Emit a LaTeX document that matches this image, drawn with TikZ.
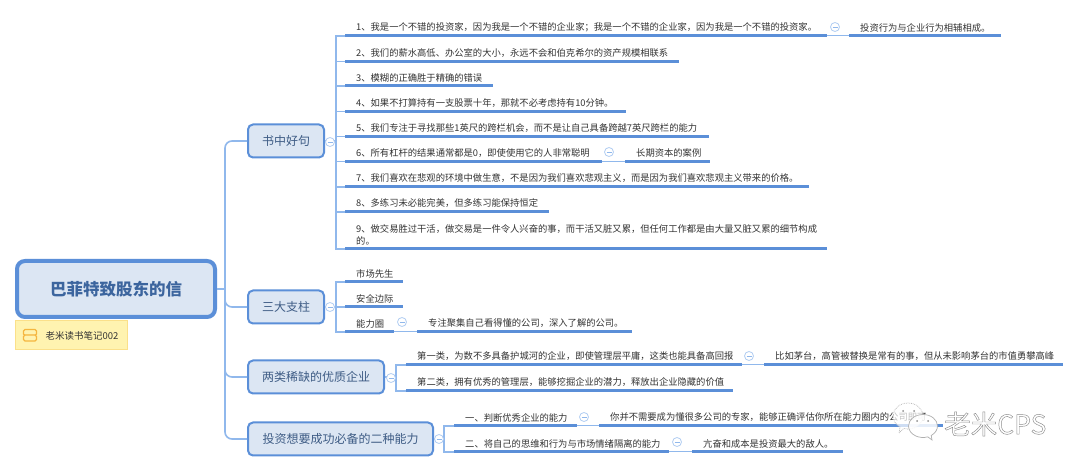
\documentclass[tikz,border=0pt]{standalone}
\usepackage{fontspec}
\usetikzlibrary{shapes.geometric,shapes.callouts}
\setmainfont{Noto Sans CJK SC}
\definecolor{barc}{HTML}{5B8FD8}
\definecolor{connc}{HTML}{90B8EC}
\definecolor{fillc}{HTML}{DCE6F3}
\definecolor{textc}{HTML}{333333}
\definecolor{branchtext}{HTML}{3E5C85}
\definecolor{roottext}{HTML}{3C659E}
\definecolor{notefill}{HTML}{FFF3B0}
\definecolor{noteedge}{HTML}{FBE08A}
\definecolor{noteicon}{HTML}{F5B63F}
\definecolor{wm}{HTML}{8C8C8C}
\tikzset{
  x=1pt,y=-1pt,
  conn/.style={draw=connc,line width=1.5pt},
  thinconn/.style={draw=connc,line width=1pt},
  trunkline/.style={draw=connc,line width=1.6pt,rounded corners=7pt},
  bar/.style={draw=barc,line width=3pt},
  leaf/.style={anchor=south west,inner xsep=11pt,inner ysep=3.9pt,align=left,text=textc,
    font=\fontsize{9.3}{12}\selectfont},
  branch/.style={draw=barc,fill=fillc,line width=2pt,rounded corners=5pt,text=branchtext,
    font=\fontsize{12}{14}\selectfont,inner sep=0pt,minimum height=33pt},
  rootnode/.style={draw=barc,fill=fillc,line width=4pt,rounded corners=8pt,text=roottext,
    font=\fontsize{16.5}{19}\selectfont\bfseries,inner sep=0pt,minimum width=198pt,minimum height=56pt},
  toggle/.style={circle,draw=connc!70,fill=white,line width=0.8pt,minimum size=9pt,inner sep=0pt,
    path picture={\draw[connc,line width=0.8pt] ([xshift=-2.5pt]path picture bounding box.center) -- ([xshift=2.5pt]path picture bounding box.center);}},
  notebox/.style={draw=noteedge,fill=notefill,line width=0.7pt,minimum width=112pt,minimum height=29pt,inner sep=0pt},
  iconrow/.style={draw=noteicon,line width=1.1pt,fill=notefill,rounded corners=1.5pt,minimum width=13pt,minimum height=6pt,inner sep=0pt},
  bubble/.style={draw=wm!70,fill=white,line width=0.7pt,inner sep=0pt},
}
\newcommand{\leafn}[5]{%
  \pgfmathsetmacro{\lw}{#3-#2-22}%
  \node[leaf,text width=\lw pt] (#1) at (#2,#4) {#5};
  \draw[bar] (#1.south west) -- (#1.south east);
}
\begin{document}
\begin{tikzpicture}
\useasboundingbox (0,0) rectangle (1080,470);
\fill[white] (0,0) rectangle (1080,470);

% root and branches
\node[rootnode] (root) at (116,289) {巴菲特致股东的信};
\node[notebox] (note) at (71,334.5) {};
\node[anchor=west,text=textc,font=\fontsize{9.5}{11}\selectfont,inner sep=0pt] (notetext) at (45.5,336) {老米读书笔记002};
\node[iconrow] (iconup) at (30,332.5) {};
\node[iconrow] (icondown) at (30,338) {};

\node[branch,minimum width=76pt] (b1) at (286,141) {书中好句};
\node[branch,minimum width=76pt] (b2) at (286,307) {三大支柱};
\node[branch,minimum width=136pt] (b3) at (316,377) {两类稀缺的优质企业};
\node[branch,minimum width=185pt] (b4) at (340.5,439) {投资想要成功必备的二种能力};

\coordinate (trunk) at (225,289);
\draw[conn] (root.east) -- (trunk);
\foreach \b in {b1,b2,b3,b4} \draw[trunkline] (trunk) |- (\b.west);

% junctions
\coordinate (j1) at (336,141);
\coordinate (j2) at (336,307);
\coordinate (j3) at (396,377);
\coordinate (j4) at (444,439);

% leaves of branch 1
\leafn{a1}{345}{827}{36}{1、我是一个不错的投资家，因为我是一个不错的企业家；我是一个不错的企业家，因为我是一个不错的投资家。}
\leafn{a1x}{849}{1001}{36}{投资行为与企业行为相辅相成。}
\leafn{a2}{345}{679}{61.5}{2、我们的薪水高低、办公室的大小，永远不会和伯克希尔的资产规模相联系}
\leafn{a3}{345}{493}{86}{3、模糊的正确胜于精确的错误}
\leafn{a4}{345}{626}{111.5}{4、如果不打算持有一支股票十年，那就不必考虑持有10分钟。}
\leafn{a5}{345}{709}{136.5}{5、我们专注于寻找那些1英尺的跨栏机会，而不是让自己具备跨越7英尺跨栏的能力}
\leafn{a6}{345}{602}{161.5}{6、所有杠杆的结果通常都是0，即使使用它的人非常聪明}
\leafn{a6x}{625}{710}{161.5}{长期资本的案例}
\leafn{a7}{345}{809}{187}{7、我们喜欢在悲观的环境中做生意，不是因为我们喜欢悲观主义，而是因为我们喜欢悲观主义带来的价格。}
\leafn{a8}{345}{549}{212}{8、多练习未必能完美，但多练习能保持恒定}
\leafn{a9}{345}{827}{249}{9、做交易胜过干活，做交易是一件令人兴奋的事，而干活又脏又累，但任何工作都是由大量又脏又累的细节构成\\的。}

% leaves of branch 2
\leafn{c1}{345}{403}{282}{市场先生}
\leafn{c2}{345}{403}{307}{安全边际}
\leafn{c3}{345}{394}{332}{能力圈}
\leafn{c3x}{417}{632}{332}{专注聚集自己看得懂的公司，深入了解的公司。}

% leaves of branch 3
\leafn{d1}{406}{742}{365}{第一类，为数不多具备护城河的企业，即使管理层平庸，这类也能具备高回报}
\leafn{d1x}{764}{1063}{365}{比如茅台，高管被替换是常有的事，但从未影响茅台的市值勇攀高峰}
\leafn{d2}{406}{733}{391}{第二类，拥有优秀的管理层，能够挖掘企业的潜力，释放出企业隐藏的价值}

% leaves of branch 4
\leafn{e1}{454}{577}{426}{一、判断优秀企业的能力}
\leafn{e1x}{599}{943}{426}{你并不需要成为懂很多公司的专家，能够正确评估你所在能力圈内的公司即可}
\leafn{e2}{454}{669}{452}{二、将自己的思维和行为与市场情绪隔离的能力}
\leafn{e2x}{692}{843}{452}{亢奋和成本是投资最大的敌人。}

\draw[conn] (b1.east) -- (j1);
\draw[conn] (b2.east) -- (j2);
\draw[conn] (b3.east) -- (j3);
\draw[conn] (b4.east) -- (j4);
\foreach \n in {a1,a2,a3,a4,a5,a6,a7,a8,a9} \draw[conn] (j1) |- (\n.south west);
\foreach \n in {c1,c2,c3} \draw[conn] (j2) |- (\n.south west);
\foreach \n in {d1,d2} \draw[conn] (j3) |- (\n.south west);
\foreach \n in {e1,e2} \draw[conn] (j4) |- (\n.south west);
\draw[thinconn] (a1.south east) -- (a1x.south west);
\draw[thinconn] (a6.south east) -- (a6x.south west);
\draw[thinconn] (c3.south east) -- (c3x.south west);
\draw[thinconn] (d1.south east) -- (d1x.south west);
\draw[thinconn] (e1.south east) -- (e1x.south west);
\draw[thinconn] (e2.south east) -- (e2x.south west);

% collapse toggles
\node[toggle] (t1) at (330,142) {};
\node[toggle] (t2) at (330,307) {};
\node[toggle] (t3) at (391,378) {};
\node[toggle] (t4) at (439,439) {};
\node[toggle] (t5) at (835,27) {};
\node[toggle] (t6) at (609,152) {};
\node[toggle] (t7) at (402,322) {};
\node[toggle] (t8) at (749,356) {};
\node[toggle] (t9) at (584,417) {};
\node[toggle] (t10) at (677,442) {};

% watermark
\node[bubble,ellipse callout,densely dotted,fill opacity=0.7,minimum width=30pt,minimum height=26pt,callout absolute pointer={(899,433)}] (wb1) at (908,416) {};
\fill[wm] (903,411) circle (1pt) (914,411) circle (1pt);
\node[bubble,ellipse callout,fill opacity=0.85,minimum width=29pt,minimum height=23pt,callout absolute pointer={(932,440)}] (wb2) at (923,426) {};
\fill[wm] (917,421) circle (1pt) (928,421) circle (1pt);
\node[anchor=west,inner sep=0pt,text=wm,font=\fontsize{26.5}{30}\selectfont] (wmtext) at (944,424) {\special{pdf:code 1 Tr 0.45 w}老米CPS\special{pdf:code 0 Tr 1 w}};
\end{tikzpicture}
\end{document}
